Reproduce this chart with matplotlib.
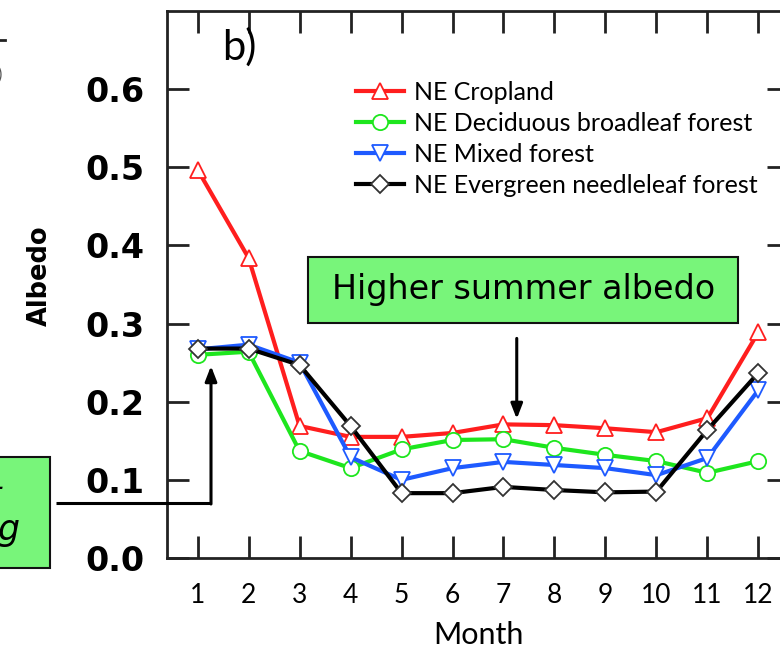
import matplotlib
matplotlib.use("Agg")
import matplotlib.pyplot as plt
from matplotlib.patches import Rectangle

# Monthly albedo by land cover, NE region
months = [1, 2, 3, 4, 5, 6, 7, 8, 9, 10, 11, 12]
cropland = [0.497, 0.384, 0.169, 0.155, 0.155, 0.160, 0.171, 0.170, 0.166, 0.161, 0.179, 0.289]
deciduous = [0.260, 0.264, 0.137, 0.115, 0.139, 0.151, 0.152, 0.141, 0.132, 0.124, 0.109, 0.124]
mixed = [0.267, 0.273, 0.250, 0.129, 0.100, 0.115, 0.123, 0.119, 0.115, 0.106, 0.128, 0.215]
evergreen = [0.268, 0.268, 0.247, 0.169, 0.083, 0.083, 0.091, 0.087, 0.084, 0.085, 0.164, 0.237]

labels = ["NE Cropland", "NE Deciduous broadleaf forest",
          "NE Mixed forest", "NE Evergreen needleleaf forest"]
yticks = [0.0, 0.1, 0.2, 0.3, 0.4, 0.5, 0.6]

RED, GREEN, BLUE, BLACK = "#ff1e1e", "#1ee61e", "#1e5aff", "#000000"
BOX = "#78f57a"
SANS = "Lato"

fig = plt.figure(figsize=(7.8, 6.48), dpi=100)
ax = fig.add_axes([167 / 780, 90 / 648, 622 / 780, 547 / 648])

series = [(cropland, RED, "^"), (deciduous, GREEN, "o"),
          (mixed, BLUE, "v"), (evergreen, BLACK, "D")]
handles = []
for (vals, col, mk), lab in zip(series, labels):
    ms = 9 if mk == "D" else 11
    h, = ax.plot(months, vals, color=col, lw=3, marker=mk, ms=ms,
                 mfc="white", mec=col if mk != "D" else "#333333", mew=1.3,
                 label=lab, zorder=3)
    handles.append(h)

ax.set_xlim(0.4, 12.6)
ax.set_ylim(0.0, 0.70)
ax.set_xticks(months)
ax.set_yticks(yticks)
ax.set_yticklabels([f"{v:.1f}" for v in yticks], fontfamily="DejaVu Sans",
                   fontweight="bold", fontsize=24)
ax.set_xticklabels([str(m) for m in months], fontfamily=SANS, fontsize=19)
ax.tick_params(direction="in", length=16, width=2, color="#222222",
               top=True, right=True)
ax.tick_params(axis="x", pad=18)
ax.tick_params(axis="y", pad=16)
for s in ax.spines.values():
    s.set_linewidth(2)
    s.set_color("#222222")

ax.set_xlabel("Month", fontfamily=SANS, fontsize=22, labelpad=9)
ax.set_ylabel("Albedo", fontfamily="DejaVu Sans", fontweight="heavy",
              fontsize=18.5, va="center")
ax.yaxis.set_label_coords(-0.204, 0.516)

ax.text(0.088, 0.97, "b)", transform=ax.transAxes, fontfamily=SANS,
        fontsize=30, ha="left", va="top")

leg = ax.legend(handles=handles, loc="upper left", bbox_to_anchor=(0.304, 0.872),
                frameon=False, prop={"family": SANS, "size": 18},
                handlelength=1.9, handletextpad=0.4, labelspacing=0.32,
                borderpad=0, borderaxespad=0)

# "Higher summer albedo" callout
ax.add_patch(Rectangle((3.17, 0.301), 8.43, 0.084, facecolor=BOX,
                       edgecolor="#111111", lw=1.5, zorder=4))
ax.text(7.39, 0.343, "Higher summer albedo", fontfamily="DejaVu Sans",
        fontsize=24, ha="center", va="center", zorder=5)
ax.annotate("", xy=(7.26, 0.178), xytext=(7.26, 0.281),
            arrowprops=dict(arrowstyle="-|>,head_length=0.9,head_width=0.35",
                            color="black", lw=2.2, shrinkA=0, shrinkB=0),
            zorder=5)

# Overlay in figure pixel coordinates for the left-hand callout
ov = fig.add_axes([0, 0, 1, 1], facecolor="none")
ov.set_zorder(5)
ov.set_xlim(0, 780)
ov.set_ylim(648, 0)
ov.axis("off")

ov.add_patch(Rectangle((-20, 457), 70, 111, facecolor=BOX,
                       edgecolor="#111111", lw=1.5))
ov.text(4, 487, "Lower winter albedo: snow-", fontfamily="DejaVu Sans",
        fontstyle="italic", fontsize=22, ha="right", va="center")
ov.text(21, 530, "masking", fontfamily="DejaVu Sans",
        fontstyle="italic", fontsize=25, ha="right", va="center")
ov.plot([56, 211], [503, 503], color="black", lw=2.2, solid_capstyle="butt")
ov.annotate("", xy=(211, 366), xytext=(211, 504),
            arrowprops=dict(arrowstyle="-|>,head_length=0.9,head_width=0.35",
                            color="black", lw=2.2, shrinkA=0, shrinkB=0))

# edge of neighbouring panel
ov.plot([0, 5], [40, 40], color="#222222", lw=2)
ov.text(-3, 75, ")", fontfamily=SANS, fontsize=12, color="#555555",
        ha="left", va="center")

fig.savefig("out.png", dpi=100)
